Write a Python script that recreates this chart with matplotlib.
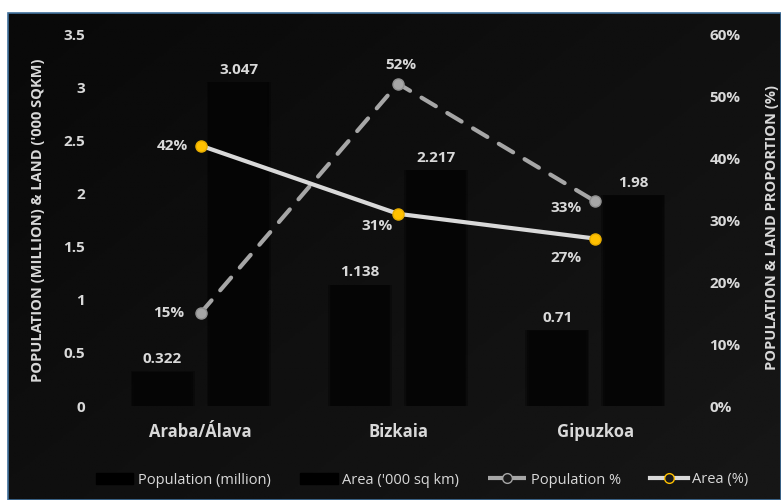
import numpy as np
import matplotlib.pyplot as plt
from matplotlib.lines import Line2D
from matplotlib.patches import Patch, Rectangle

plt.rcParams['font.family'] = ['Open Sans', 'DejaVu Sans']

# Basque provinces: population and land area
regions = ["Araba/Álava", "Bizkaia", "Gipuzkoa"]
population = [0.322, 1.138, 0.71]        # million
area = [3.047, 2.217, 1.98]              # '000 sq km
population_pct = [0.15, 0.52, 0.33]      # share of population
area_pct = [0.42, 0.31, 0.27]            # share of land

text_col = '#d9d9d9'
W, H = 781, 500
fig = plt.figure(figsize=(W / 100, H / 100), dpi=100, facecolor='white')

# dark gradient panel with a thin blue border
bg = fig.add_axes([8 / W, 0, 773 / W, 487 / H])
yy, xx = np.mgrid[0:1:200j, 0:1:300j]
shade = 0.035 + 0.055 * (0.55 * xx + 0.45 * yy)
bg.imshow(shade, cmap='gray', vmin=0, vmax=1, aspect='auto', extent=[0, 1, 0, 1], origin='upper')
bg.set_xlim(0, 1)
bg.set_ylim(0, 1)
bg.axis('off')
fig.add_artist(Rectangle((8 / W, 0), 773 / W, 487 / H, transform=fig.transFigure,
                         fill=False, ec='#41719c', lw=1.2, zorder=10))

ax = fig.add_axes([102 / W, 1 - 406 / H, 592 / W, 372 / H])
ax.set_facecolor('none')
x = np.arange(len(regions))
bw = 0.29
off = 0.193

# soft black bars
for vals, dx in [(population, -off), (area, off)]:
    for k, a in [(0.035, 0.3), (0.018, 0.4)]:
        ax.bar(x + dx, np.array(vals) + k * 0.1, width=bw + k, color='black', alpha=a, lw=0)
    bars = ax.bar(x + dx, vals, width=bw, color='#050505', lw=0)
    for b, v in zip(bars, vals):
        ax.annotate(f"{v:g}", (b.get_x() + b.get_width() / 2, v), xytext=(0, 4),
                    textcoords='offset points', ha='center', va='bottom',
                    color=text_col, fontsize=11, fontweight='bold')

ax.set_xlim(-0.5, 2.5)
ax.set_ylim(0, 3.5)
ax.set_yticks(np.arange(0, 3.51, 0.5))
ax.set_yticklabels(['0', '0.5', '1', '1.5', '2', '2.5', '3', '3.5'])
ax.set_xticks(x)
ax.set_xticklabels(regions)
ax.tick_params(axis='y', length=0, pad=12, colors=text_col, labelsize=11)
ax.tick_params(axis='x', length=0, pad=12, colors=text_col, labelsize=12)
for t in ax.get_xticklabels() + ax.get_yticklabels():
    t.set_fontweight('bold')
for s in ax.spines.values():
    s.set_visible(False)
ax.set_ylabel("POPULATION (MILLION) & LAND ('000 SQKM)", color=text_col,
              fontsize=10.5, fontweight='bold')
ax.yaxis.set_label_coords(-0.096, 0.5)

# percentage lines on the secondary axis
ax2 = ax.twinx()
ax2.set_ylim(0, 0.6)
ax2.set_yticks(np.arange(0, 0.61, 0.1))
ax2.set_yticklabels([f"{int(round(v * 100))}%" for v in np.arange(0, 0.61, 0.1)])
ax2.tick_params(axis='y', length=0, pad=11, colors=text_col, labelsize=11)
for t in ax2.get_yticklabels():
    t.set_fontweight('bold')
for s in ax2.spines.values():
    s.set_visible(False)
ax2.set_ylabel("POPULATION & LAND PROPORTION (%)", color=text_col,
               fontsize=10.5, fontweight='bold', rotation=90)
ax2.yaxis.set_label_coords(1.12, 0.48)

ax2.plot(x, population_pct, color='#a6a6a6', lw=3, dashes=(4, 3.2),
         dash_capstyle='round', marker='o', ms=8, mfc='#a6a6a6', mec='#8f8f8f')
ax2.plot(x, area_pct, color=text_col, lw=3, solid_capstyle='round',
         marker='o', ms=8, mfc='#ffc000', mec='#e6ac00')

pop_offsets = [((-12, 0), 'right', 'center'), ((2, 8), 'center', 'bottom'),
               ((-10, -5), 'right', 'center')]
area_offsets = [((-9, 0), 'right', 'center'), ((-4, -9), 'right', 'center'),
                ((-10, -14), 'right', 'center')]
for vals, offs in [(population_pct, pop_offsets), (area_pct, area_offsets)]:
    for xi, v, (xy, ha, va) in zip(x, vals, offs):
        ax2.annotate(f"{int(round(v * 100))}%", (xi, v), xytext=xy,
                     textcoords='offset points', ha=ha, va=va,
                     color=text_col, fontsize=11, fontweight='bold')

handles = [Patch(color='black'), Patch(color='black'),
           Line2D([], [], color='#a6a6a6', lw=3, dashes=(4, 1.5), marker='o', ms=7,
                  mfc='#1a1a1a', mec='#a6a6a6'),
           Line2D([], [], color=text_col, lw=3, marker='o', ms=7,
                  mfc='#1a1a1a', mec='#ffc000')]
labels = ["Population (million)", "Area ('000 sq km)", "Population %", "Area (%)"]
fig.legend(handles, labels, loc='center', bbox_to_anchor=(422 / W, 1 - 480 / H), ncol=4,
           frameon=False, fontsize=10.5, labelcolor=text_col, handlelength=2.6,
           columnspacing=2.0, handletextpad=0.3)

fig.savefig('out.png', dpi=100, facecolor='white')
